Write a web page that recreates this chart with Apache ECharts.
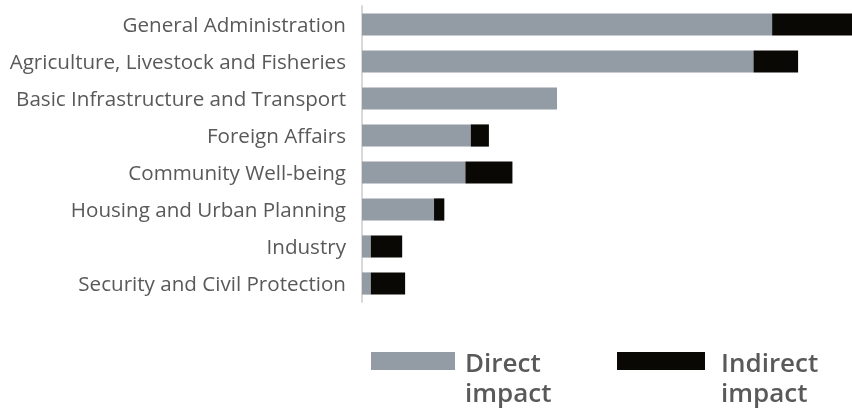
<!DOCTYPE html>
<html>
<head>
<meta charset="utf-8">
<script src="https://cdn.jsdelivr.net/npm/echarts@6/dist/echarts.min.js"></script>
<style>
  html, body { margin: 0; padding: 0; background: #ffffff; }
  #chart { width: 852px; height: 412px; }
</style>
</head>
<body>
<div id="chart"></div>
<script>
// Sectors, listed top to bottom
const categories = [
  'General Administration',
  'Agriculture, Livestock and Fisheries',
  'Basic Infrastructure and Transport',
  'Foreign Affairs',
  'Community Well-being',
  'Housing and Urban Planning',
  'Industry',
  'Security and Civil Protection'
];

// Impact per sector
const directImpact   = [83.7, 79.9, 39.8, 22.2, 21.1, 14.7, 1.8, 1.8];
const indirectImpact = [16.3,  9.1,  0.0,  3.7,  9.6,  2.1, 6.4, 7.0];

const seriesNames = ['Direct\nimpact', 'Indirect\nimpact'];
const seriesColors = ['#939ba4', '#0a0804'];

const FONT = "'Open Sans', 'Noto Sans', sans-serif";

const chart = echarts.init(document.getElementById('chart'), null, { renderer: 'canvas' });

// One legend per series. A taller blank first line keeps the first text
// line level with the swatch while the second line hangs below it.
function legendFor(name, left, swatchWidth, textGap) {
  return {
    data: [name],
    left: left,
    top: 326,
    padding: 0,
    itemWidth: swatchWidth,
    itemHeight: 18,
    icon: 'rect',
    selectedMode: false,
    formatter: n => '{s| }\n' + n.split('\n').map(l => '{t|' + l + '}').join('\n'),
    textStyle: {
      padding: [0, 0, 0, textGap],
      rich: {
        s: { fontSize: 10, lineHeight: 38 },
        t: {
          fontFamily: FONT,
          fontSize: 26,
          fontWeight: 600,
          lineHeight: 30,
          color: '#595959'
        }
      }
    }
  };
}

chart.setOption({
  animation: false,
  backgroundColor: '#ffffff',
  grid: { left: 362, right: 0, top: 6, height: 296, containLabel: false },
  legend: [
    legendFor(seriesNames[0], 371, 84, 5),
    legendFor(seriesNames[1], 617, 88, 11)
  ],
  xAxis: {
    type: 'value',
    min: 0,
    max: 100,
    show: false
  },
  yAxis: {
    type: 'category',
    data: categories,
    inverse: true,
    axisLine: { show: true, lineStyle: { color: '#d9d9d9', width: 2 } },
    axisTick: { show: false },
    axisLabel: {
      margin: 16,
      // a thin spacer line above each name nudges it just below the bar centre
      formatter: v => '{g| }\n{a|' + v + '}',
      rich: {
        g: { fontSize: 4, lineHeight: 4 },
        a: {
          fontFamily: FONT,
          fontSize: 20.6,
          lineHeight: 24,
          color: '#595959'
        }
      }
    }
  },
  series: [
    {
      name: seriesNames[0],
      type: 'bar',
      stack: 'impact',
      data: directImpact,
      barCategoryGap: '40%',
      itemStyle: { color: seriesColors[0] }
    },
    {
      name: seriesNames[1],
      type: 'bar',
      stack: 'impact',
      data: indirectImpact,
      barCategoryGap: '40%',
      itemStyle: { color: seriesColors[1] }
    }
  ]
});
</script>
</body>
</html>
